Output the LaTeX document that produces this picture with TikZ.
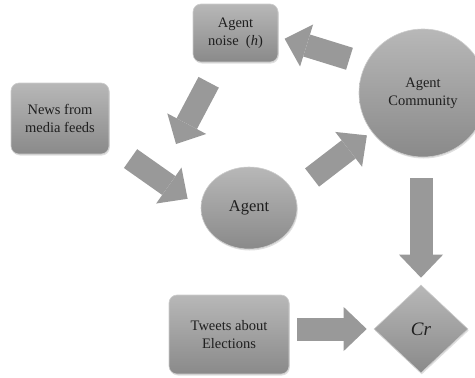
\documentclass[tikz,border=0pt]{standalone}
\usepackage{fontspec}
\setmainfont{Liberation Serif}
\usepackage{xcolor}
\usetikzlibrary{arrows.meta,positioning,calc,shapes.geometric,shadows}

\definecolor{shadetop}{gray}{0.72}
\definecolor{shadebot}{gray}{0.54}
\definecolor{rimgray}{gray}{0.80}
\definecolor{arrowgray}{gray}{0.60}
\definecolor{textgray}{gray}{0.12}

\tikzset{
	blob/.style={draw=rimgray, line width=0.6pt, top color=shadetop, bottom color=shadebot, text=textgray, align=center, inner sep=2pt, drop shadow={opacity=0.25, shadow xshift=0.8pt, shadow yshift=-1.5pt}},
	softbox/.style={blob, rounded corners=8pt},
	boxfont/.style={font=\fontsize{14.5}{18}\selectfont},
	fatarrow/.style={draw=arrowgray, line width=23pt, -{Triangle[length=23pt, width=44pt, line width=0pt]}}
}

\begin{document}
\begin{tikzpicture}[x=1pt, y=-1pt]
		\useasboundingbox (0,0) rectangle (475,378);

		\node[softbox, boxfont, minimum width=85pt, minimum height=58pt] (noise) at (235.5,33) {Agent\\noise~ (\textit{h})};
		\node[softbox, boxfont, minimum width=98pt, minimum height=71pt] (news) at (60,118.5) {News from\\media feeds};
		\node[softbox, boxfont, minimum width=120pt, minimum height=79pt] (tweets) at (229,334.5) {Tweets about\\Elections};
		\node[blob, ellipse, minimum width=96pt, minimum height=82pt, font=\fontsize{16.5}{20}\selectfont] (agent) at (249,208) {Agent};
		\node[blob, circle, minimum size=128pt, boxfont] (community) at (423,93) {Agent\\Community};
		\node[blob, diamond, minimum width=94pt, minimum height=88pt, font=\fontsize{19}{22}\selectfont\itshape] (cr) at (421,329) {Cr};

		\coordinate (noisetip) at (176,144);

		\draw[fatarrow, shorten <=17pt, shorten >=6.6pt] (community.153) -- (noise.-5);
		\draw[fatarrow, shorten <=22.6pt] (noise.-119) -- (noisetip);
		\draw[fatarrow, shorten <=26pt, shorten >=16pt] (news.-27) -- (agent.west);
		\draw[fatarrow, shorten <=23.5pt, shorten >=6pt] (agent.20) -- (community.-143);
		\draw[fatarrow, shorten <=21pt, shorten >=7pt] (cr.north |- community.south) -- (cr.north);
		\draw[fatarrow, shorten <=8pt, shorten >=7pt] (tweets.east |- cr.west) -- (cr.west);
	\end{tikzpicture}
\end{document}
